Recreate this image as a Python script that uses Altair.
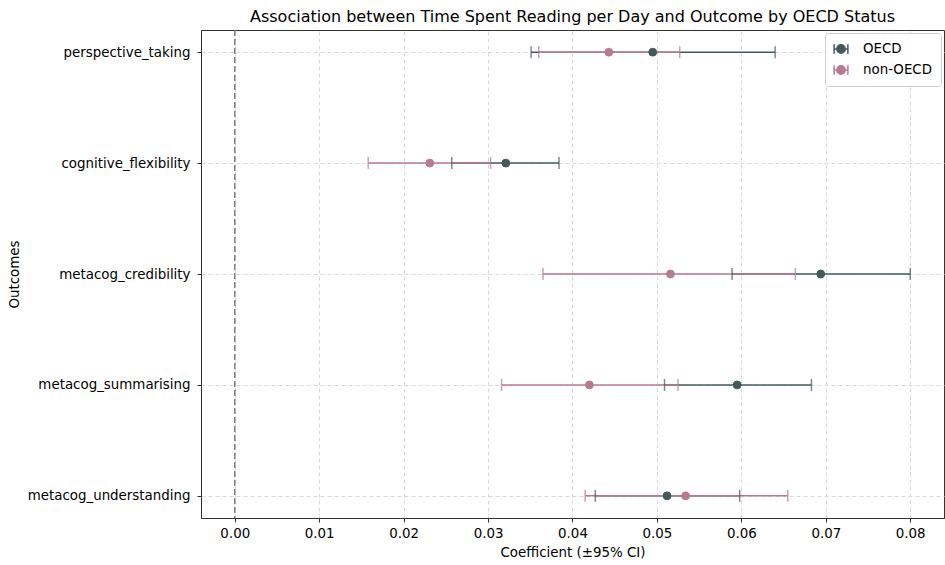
import altair as alt
import pandas as pd

outcomes = ["perspective_taking", "cognitive_flexibility", "metacog_credibility",
            "metacog_summarising", "metacog_understanding"]
groups = ["OECD", "non-OECD"]

oecd_coef = [0.0495, 0.0321, 0.0694, 0.0595, 0.0512]
oecd_lo = [0.0351, 0.0257, 0.0589, 0.0509, 0.0427]
oecd_hi = [0.0640, 0.0384, 0.0800, 0.0683, 0.0598]

non_coef = [0.0443, 0.0231, 0.0516, 0.0420, 0.0534]
non_lo = [0.0360, 0.0158, 0.0365, 0.0316, 0.0415]
non_hi = [0.0527, 0.0303, 0.0664, 0.0525, 0.0655]

x_ticks = [0.00, 0.01, 0.02, 0.03, 0.04, 0.05, 0.06, 0.07, 0.08]
colors = ["#435a5d", "#b97a8f"]

rows = []
for g, c, lo, hi in [("OECD", oecd_coef, oecd_lo, oecd_hi),
                     ("non-OECD", non_coef, non_lo, non_hi)]:
    for o, cv, l, h in zip(outcomes, c, lo, hi):
        rows.append({"outcome": o, "group": g, "coef": cv, "lo": l, "hi": h})
df = pd.DataFrame(rows)

FONT = "DejaVu Sans"
FS = 13.4
xscale = alt.Scale(domain=[-0.004, 0.084], nice=False, zero=False)
yscale = alt.Scale(type="point", domain=outcomes, padding=0.2)
cscale = alt.Scale(domain=groups, range=colors)

xaxis = alt.Axis(title="Coefficient (±95% CI)", values=x_ticks, format=".2f",
                 grid=True, gridDash=[4, 3], gridColor="#d9d9d9",
                 labelPadding=4, titlePadding=6)
yaxis = alt.Axis(title="Outcomes", grid=True, gridDash=[4, 3],
                 gridColor="#d9d9d9", labelPadding=7, titlePadding=6)


def X(field):
    return alt.X(field, type="quantitative", scale=xscale, axis=xaxis)


def Y():
    return alt.Y("outcome", type="nominal", scale=yscale, axis=yaxis)


leg = alt.Legend(title=None, orient="top-right", offset=3,
                 symbolType="M-1,0L1,0M-1,-0.7L-1,0.7M1,-0.7L1,0.7M0.6,0A0.6,0.6,0,1,1,-0.6,0A0.6,0.6,0,1,1,0.6,0Z",
                 symbolSize=190, symbolStrokeWidth=1.5, symbolOpacity=1,
                 labelFontSize=FS, labelFont=FONT, labelColor="#000000",
                 labelOffset=14, rowPadding=5, padding=8,
                 fillColor="white", strokeColor="#d0d0d0", cornerRadius=3)


def Fill():
    return alt.Fill("group", type="nominal", scale=cscale, legend=leg)


def Stroke():
    return alt.Stroke("group", type="nominal", scale=cscale, legend=leg)


zero = alt.Chart(pd.DataFrame({"z": [0.0]})).mark_rule(
    color="#7f7f7f", strokeWidth=1.5, strokeDash=[6, 3]
).encode(x=X("z"))

base = alt.Chart(df)
rules = base.mark_rule(strokeWidth=1.5).encode(
    x=X("lo"), x2=alt.X2("hi"), y=Y(), stroke=Stroke())
cap_lo = base.mark_tick(size=12, thickness=1.5).encode(
    x=X("lo"), y=Y(), fill=Fill())
cap_hi = base.mark_tick(size=12, thickness=1.5).encode(
    x=X("hi"), y=Y(), fill=Fill())
points = base.mark_point(shape="circle", filled=True, size=62, strokeWidth=1,
                         opacity=1).encode(
    x=X("coef"), y=Y(), fill=Fill(), stroke=Stroke())

chart = alt.layer(zero, rules, cap_lo, cap_hi, points).properties(
    width=743, height=488,
    autosize=alt.AutoSizeParams(type="none"),
    padding={"left": 201, "top": 30, "right": 1, "bottom": 47},
    title=alt.TitleParams(
        "Association between Time Spent Reading per Day and Outcome by OECD Status",
        fontSize=16, fontWeight="normal", font=FONT, color="#000000",
        anchor="middle", offset=4)
).configure(
    background="white"
).configure_view(
    stroke="#333333", strokeWidth=1
).configure_axis(
    labelFont=FONT, titleFont=FONT, labelFontSize=FS, titleFontSize=FS,
    labelColor="#000000", titleColor="#000000", titleFontWeight="normal",
    domainColor="#333333", tickColor="#333333", tickSize=4, domainWidth=1
)

chart.save("out.html", embed_options={"renderer": "svg", "actions": False})
